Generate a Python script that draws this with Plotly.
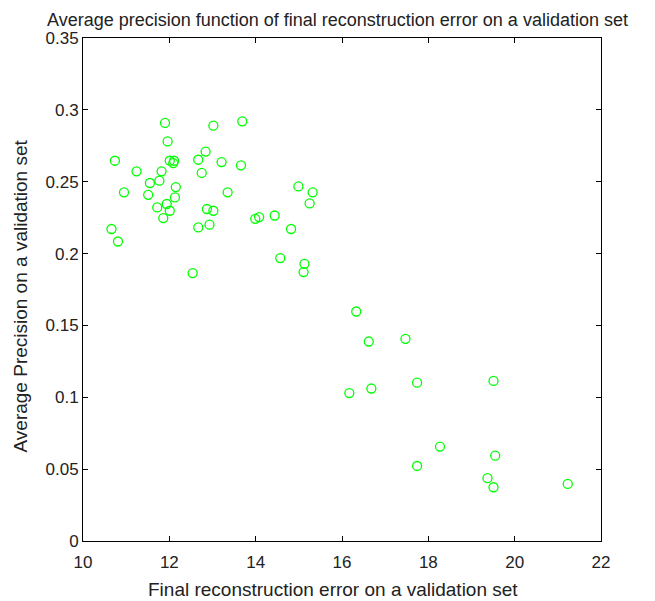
import plotly.graph_objects as go

recon_error = [11.90, 13.02, 13.69, 11.96, 12.84, 10.74, 12.01, 12.11, 12.09, 12.67,
               13.21, 13.66, 11.24, 11.82, 12.75, 11.55, 11.77, 12.15, 10.95, 11.51,
               13.35, 12.13, 11.94, 11.72, 12.01, 12.87, 13.02, 11.86, 13.99, 14.08,
               14.44, 10.66, 12.67, 12.93, 10.81, 14.57, 12.54, 14.99, 15.32, 15.25,
               14.82, 15.13, 15.11, 16.33, 16.62, 17.47, 17.74, 19.51, 16.17, 16.68,
               18.27, 17.74, 19.55, 19.37, 19.51, 21.23]
avg_precision = [0.2909, 0.289, 0.292, 0.278, 0.271, 0.2646, 0.2646, 0.2646, 0.263, 0.2653,
                 0.2637, 0.2614, 0.2572, 0.2572, 0.2561, 0.2491, 0.2507, 0.2463, 0.2426, 0.2409,
                 0.2426, 0.2391, 0.2345, 0.2321, 0.2298, 0.2310, 0.2298, 0.2247, 0.2242, 0.2254,
                 0.2265, 0.2171, 0.2182, 0.2201, 0.2084, 0.1969, 0.1864, 0.2467, 0.2426, 0.2349,
                 0.2171, 0.1929, 0.1871, 0.1597, 0.1388, 0.1407, 0.1102, 0.1114, 0.1029, 0.1061,
                 0.0657, 0.0522, 0.0594, 0.0437, 0.0374, 0.0397]

x_ticks = [10, 12, 14, 16, 18, 20, 22]
y_ticks = [0, 0.05, 0.1, 0.15, 0.2, 0.25, 0.3, 0.35]
y_tick_labels = ["0", "0.05", "0.1", "0.15", "0.2", "0.25", "0.3", "0.35"]

title_text = "Average precision function of final reconstruction error on a validation set"
x_title = "Final reconstruction error on a validation set"
y_title = "Average Precision on a validation set"

FONT = "Liberation Sans, Arial, sans-serif"
TXT = "#222222"

fig = go.Figure(go.Scatter(
    x=recon_error, y=avg_precision, mode="markers",
    marker=dict(symbol="circle-open", size=9, color="#00ff00",
                line=dict(width=1.3, color="#00ff00")),
))

axis_common = dict(showline=True, linecolor="black", linewidth=1, mirror="ticks",
                   ticks="inside", ticklen=5, tickcolor="black", showgrid=False,
                   zeroline=False, automargin=False,
                   tickfont=dict(size=17, color=TXT, family=FONT))

fig.update_layout(
    width=655, height=601,
    margin=dict(l=75, r=62, t=30, b=68),
    paper_bgcolor="white", plot_bgcolor="white",
    font=dict(family=FONT, color=TXT),
    showlegend=False,
    title=dict(text=title_text, x=0.503, xanchor="center", xref="container",
               y=1 - 12 / 601, yanchor="middle", yref="container",
               font=dict(size=18, color=TXT)),
    xaxis=dict(range=[10, 22], tickvals=x_ticks, ticktext=[str(v) for v in x_ticks],
               ticklabelstandoff=6, **axis_common),
    yaxis=dict(range=[0, 0.35], tickvals=y_ticks, ticktext=y_tick_labels,
               **axis_common),
    annotations=[
        dict(text=x_title, xref="paper", yref="paper", x=0.483, y=0,
             xanchor="center", yanchor="middle", yshift=-48, showarrow=False,
             font=dict(size=19, color=TXT)),
        dict(text=y_title, xref="paper", yref="paper", x=0, y=0.5,
             xanchor="center", yanchor="middle", xshift=-63, yshift=-7, textangle=-90,
             showarrow=False, font=dict(size=19, color=TXT)),
    ],
)

fig.write_html("out.html")
